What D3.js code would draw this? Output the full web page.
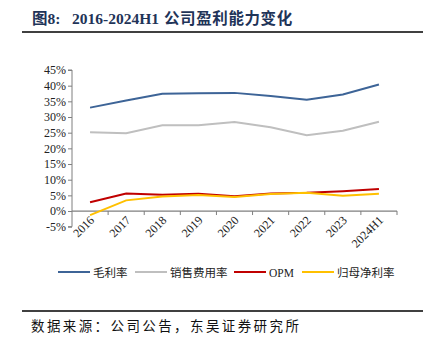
<!DOCTYPE html>
<html><head><meta charset="utf-8">
<script src="https://cdn.jsdelivr.net/npm/d3@7"></script>
<style>body{margin:0;background:#fff}</style>
</head><body>
<svg id="c" width="436" height="360"></svg>
<script>
const categories = ["2016","2017","2018","2019","2020","2021","2022","2023","2024H1"];
const grossMargin = [33.0, 35.3, 37.4, 37.6, 37.7, 36.7, 35.5, 37.2, 40.4];
const salesExpense = [25.1, 24.8, 27.4, 27.4, 28.4, 26.7, 24.2, 25.6, 28.5];
const opm = [2.8, 5.6, 5.2, 5.5, 4.7, 5.6, 5.8, 6.3, 7.0];
const netMargin = [-1.3, 3.4, 4.6, 5.1, 4.5, 5.4, 5.8, 4.9, 5.5];
const yTicks = [-5,0,5,10,15,20,25,30,35,40,45];
const seriesNames = ["毛利率","销售费用率","OPM","归母净利率"];
const seriesColors = ["#3d6497","#bfbfbf","#c00000","#ffc000"];
const seriesData = [grossMargin, salesExpense, opm, netMargin];

const svg = d3.select("#c");
const serif = "'Liberation Serif','Times New Roman',serif";
const cjk = "'Liberation Serif','Noto Sans CJK SC',serif";

// title
const t = svg.append("text").attr("x",32).attr("y",24)
  .attr("font-family","'Liberation Serif','Noto Sans CJK SC',serif")
  .attr("font-weight","bold").attr("font-size",15.5).attr("fill","#1f3458");
t.append("tspan").text("图8:");
t.append("tspan").attr("x",72).text("2016-2024H1");
t.append("tspan").attr("x",164).attr("letter-spacing",0.6).text("公司盈利能力变化");
svg.append("line").attr("x1",22).attr("x2",423).attr("y1",32).attr("y2",32)
  .attr("stroke","#000").attr("stroke-width",1.6);

const x = d3.scaleBand().domain(categories).range([72,397]);
const y = d3.scaleLinear().domain([-5,45]).range([226.7,70]);

// y axis
const ya = svg.append("g").attr("transform","translate(72,0)")
  .call(d3.axisLeft(y).tickValues(yTicks).tickSize(4).tickFormat(d=>d+"%"));
ya.select(".domain").attr("stroke","#7f7f7f").attr("d","M-4,"+y(-5)+"H0V"+y(45)+"H-4");
ya.selectAll(".tick line").attr("stroke","#7f7f7f");
ya.selectAll(".tick text").attr("font-family",serif).attr("font-size",12).attr("fill","#222").attr("x",-6);

// x axis at 0
const xa = svg.append("g").attr("transform","translate(0,"+y(0)+")");
xa.append("line").attr("x1",72).attr("x2",397).attr("stroke","#7f7f7f").attr("stroke-width",1.2);
const bounds = categories.map(c=>x(c)).concat([x.range()[1]]);
xa.selectAll(".tk").data(bounds.slice(1)).join("line").attr("class","tk")
  .attr("x1",d=>d).attr("x2",d=>d).attr("y1",0).attr("y2",4).attr("stroke","#7f7f7f");
svg.append("g").selectAll("text").data(categories).join("text")
  .attr("transform",d=>"translate("+(x(d)+x.bandwidth()/2+5)+","+(y(0)+10)+") rotate(-45)")
  .attr("text-anchor","end").attr("font-family",serif).attr("font-size",12).attr("fill","#222")
  .text(d=>d);

// lines
const line = d3.line().x((d,i)=>x(categories[i])+x.bandwidth()/2).y(d=>y(d));
seriesData.forEach((s,k)=>{
  svg.append("path").datum(s).attr("d",line).attr("fill","none")
    .attr("stroke",seriesColors[k]).attr("stroke-width",2);
});

// legend
const legX = [58,135,234,302];
seriesNames.forEach((n,k)=>{
  svg.append("line").attr("x1",legX[k]).attr("x2",legX[k]+32).attr("y1",272).attr("y2",272)
    .attr("stroke",seriesColors[k]).attr("stroke-width",2);
  svg.append("text").attr("x",legX[k]+35).attr("y",276.5)
    .attr("font-family",cjk).attr("font-size",11.5).attr("fill","#222").text(n);
});

// footer
svg.append("line").attr("x1",22).attr("x2",423).attr("y1",311).attr("y2",311)
  .attr("stroke","#000").attr("stroke-width",1.6);
svg.append("text").attr("x",31).attr("y",331)
  .attr("font-family","'Noto Sans CJK SC',sans-serif").attr("font-size",13.5).attr("letter-spacing",2.4).attr("fill","#111")
  .text("数据来源：公司公告，东吴证券研究所");
</script>
</body></html>
